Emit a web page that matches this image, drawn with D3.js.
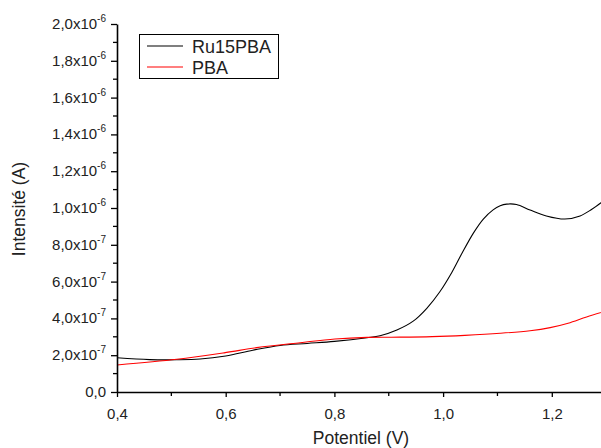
<!DOCTYPE html>
<html><head><meta charset="utf-8">
<script src="https://cdn.jsdelivr.net/npm/d3@7"></script>
<style>body{margin:0;background:#fff}text{font-family:"Liberation Sans",Arial,sans-serif;fill:#222}</style>
</head><body><svg id="c" width="601" height="448"></svg>
<script>
// Data
const ruPotential = [0.40,0.46,0.51,0.553,0.60,0.65,0.70,0.75,0.80,0.86,0.884,0.915,0.945,0.970,0.994,1.016,1.034,1.056,1.074,1.092,1.105,1.117,1.135,1.16,1.19,1.224,1.252,1.273,1.30];
const ruCurrent   = [1.86e-7,1.76e-7,1.75e-7,1.79e-7,1.96e-7,2.27e-7,2.53e-7,2.64e-7,2.75e-7,2.95e-7,3.06e-7,3.37e-7,3.85e-7,4.55e-7,5.45e-7,6.50e-7,7.50e-7,8.65e-7,9.40e-7,9.90e-7,1.012e-6,1.021e-6,1.019e-6,9.89e-7,9.57e-7,9.40e-7,9.57e-7,9.92e-7,1.05e-6];
const pbaPotential = [0.40,0.51,0.599,0.657,0.737,0.801,0.86,0.92,0.98,1.04,1.105,1.16,1.197,1.23,1.264,1.30];
const pbaCurrent   = [1.47e-7,1.78e-7,2.14e-7,2.41e-7,2.68e-7,2.88e-7,2.97e-7,2.98e-7,3.01e-7,3.08e-7,3.19e-7,3.33e-7,3.50e-7,3.74e-7,4.08e-7,4.40e-7];
const seriesNames = ["Ru15PBA","PBA"];
const seriesColors = ["#000000","#ff0000"];
const xTicks = [0.4,0.6,0.8,1.0,1.2];
const xTickLabels = ["0,4","0,6","0,8","1,0","1,2"];
const xMinor = [0.5,0.7,0.9,1.1,1.3];
const yTicks = [0,2e-7,4e-7,6e-7,8e-7,1e-6,1.2e-6,1.4e-6,1.6e-6,1.8e-6,2e-6];
const yMantissa = ["0,0","2,0","4,0","6,0","8,0","1,0","1,2","1,4","1,6","1,8","2,0"];
const yExponent = ["","-7","-7","-7","-7","-6","-6","-6","-6","-6","-6"];
const yMinor = [1e-7,3e-7,5e-7,7e-7,9e-7,1.1e-6,1.3e-6,1.5e-6,1.7e-6,1.9e-6];

const svg = d3.select("#c");
const L=117, T=24, B=392;
const x = d3.scaleLinear().domain([0.4,1.3]).range([L, L+0.9*543.5]);
const y = d3.scaleLinear().domain([0,2e-6]).range([B,T]);

svg.append("clipPath").attr("id","clip").append("rect").attr("x",L).attr("y",T-2).attr("width",601-L).attr("height",B-T+2);

const line = d3.line().x(d=>x(d[0])).y(d=>y(d[1])).curve(d3.curveCatmullRom.alpha(0.5));
const series = [d3.zip(ruPotential,ruCurrent), d3.zip(pbaPotential,pbaCurrent)];
const g = svg.append("g").attr("clip-path","url(#clip)");
series.forEach((s,i)=>{
  g.append("path").attr("d",line(s)).attr("fill","none").attr("stroke",seriesColors[i]).attr("stroke-width",1.1);
});

// X axis
const xa = svg.append("g").attr("transform",`translate(0,${B})`)
  .call(d3.axisBottom(x).tickValues(xTicks).tickFormat((d,i)=>xTickLabels[i]).tickSize(5).tickSizeOuter(0));
xa.select(".domain").attr("stroke","#000").attr("stroke-width",1.6);
xa.selectAll(".tick line").attr("stroke","#000").attr("stroke-width",1.3);
xa.selectAll(".tick text").attr("font-size",15).attr("dy","1.25em").style("font-family","Liberation Sans, Arial").attr("fill","#222");
svg.append("g").selectAll("line").data(xMinor).join("line")
  .attr("x1",d=>x(d)).attr("x2",d=>x(d)).attr("y1",B).attr("y2",B+4).attr("stroke","#000").attr("stroke-width",1.3);

// Y axis
const ya = svg.append("g").attr("transform",`translate(${L},0)`)
  .call(d3.axisLeft(y).tickValues(yTicks).tickFormat("").tickSize(6).tickSizeOuter(0));
ya.select(".domain").attr("stroke","#000").attr("stroke-width",1.6);
ya.selectAll(".tick line").attr("stroke","#000").attr("stroke-width",1.3);
svg.append("g").selectAll("line").data(yMinor).join("line")
  .attr("x1",L-4).attr("x2",L).attr("y1",d=>y(d)).attr("y2",d=>y(d)).attr("stroke","#000").attr("stroke-width",1.3);
const yl = svg.append("g").selectAll("text").data(yTicks).join("text")
  .attr("x",106).attr("y",d=>y(d)+5).attr("text-anchor","end").attr("font-size",15);
yl.each(function(d,i){
  const t=d3.select(this);
  if(yExponent[i]){
    t.append("tspan").text(yMantissa[i]+"x10");
    t.append("tspan").attr("font-size",10).attr("dy",-7).text(yExponent[i]);
  } else t.text(yMantissa[i]);
});

// Axis titles
svg.append("text").attr("x",361).attr("y",444).attr("text-anchor","middle").attr("font-size",17.5).text("Potentiel (V)");
svg.append("text").attr("transform","translate(25,209) rotate(-90)").attr("text-anchor","middle").attr("font-size",17.5).text("Intensité (A)");

// Legend
const lg = svg.append("g");
lg.append("rect").attr("x",139.5).attr("y",34.5).attr("width",139).attr("height",44).attr("fill","#fff").attr("stroke","#000").attr("stroke-width",1);
seriesNames.forEach((n,i)=>{
  const yy = 46 + i*21;
  lg.append("line").attr("x1",147).attr("x2",183).attr("y1",yy).attr("y2",yy).attr("stroke",seriesColors[i]).attr("stroke-width",1.1);
  lg.append("text").attr("x",192).attr("y",yy+6.5).attr("font-size",18).text(n);
});
</script></body></html>
